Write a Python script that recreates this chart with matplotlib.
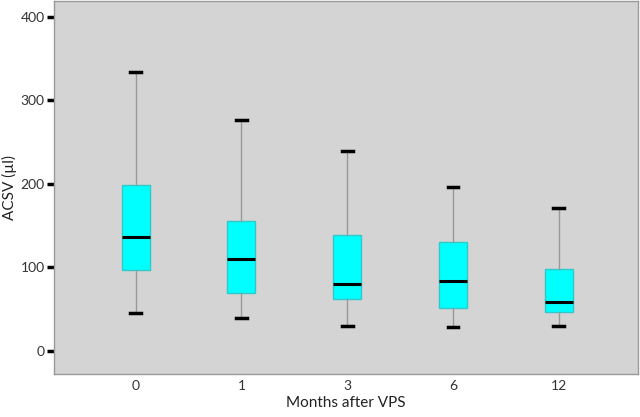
import matplotlib
matplotlib.use("Agg")
import matplotlib.pyplot as plt

plt.rcParams["font.family"] = ["Lato", "DejaVu Sans"]

months = ["0", "1", "3", "6", "12"]
whisker_low = [45.5, 39.5, 29.6, 28.7, 29.6]
q1 = [97, 69.5, 62.6, 51.9, 47]
median = [136.5, 110, 80.2, 83.8, 59]
q3 = [199, 155.7, 138.6, 130, 97.8]
whisker_high = [334, 276.6, 239.5, 196.4, 171]

stats = []
for i, m in enumerate(months):
    stats.append({"label": m, "whislo": whisker_low[i], "q1": q1[i], "med": median[i],
                  "q3": q3[i], "whishi": whisker_high[i], "fliers": []})

fig = plt.figure(figsize=(6.4, 4.17), dpi=100)
ax = fig.add_axes([0.084, 0.103, 0.913, 0.895])
ax.set_facecolor("#d4d4d4")

ax.bxp(stats, positions=range(1, 6), widths=0.265, patch_artist=True,
       boxprops=dict(facecolor="#00ffff", edgecolor="#30c8c8", linewidth=1),
       medianprops=dict(color="black", linewidth=2.2),
       whiskerprops=dict(color="#999999", linewidth=1),
       capprops=dict(color="black", linewidth=2.5), capwidths=0.1)

ax.set_xlim(0.225, 5.75)
ax.set_ylim(-27.5, 419)
ax.set_yticks([0, 100, 200, 300, 400])
ax.tick_params(axis="y", length=5, width=2.5, color="black", pad=1.5, labelsize=10, labelcolor="#333333")
ax.tick_params(axis="x", length=0, pad=4, labelsize=10, labelcolor="#333333")
for s in ax.spines.values():
    s.set_color("#999999")
    s.set_linewidth(1)
ax.set_ylabel("ACSV (\u00b5l)", fontsize=11, color="#222222")
ax.yaxis.set_label_coords(-0.063, 0.5)
ax.set_xlabel("Months after VPS", fontsize=11, color="#222222", labelpad=3)
fig.savefig("out.png", dpi=100)
